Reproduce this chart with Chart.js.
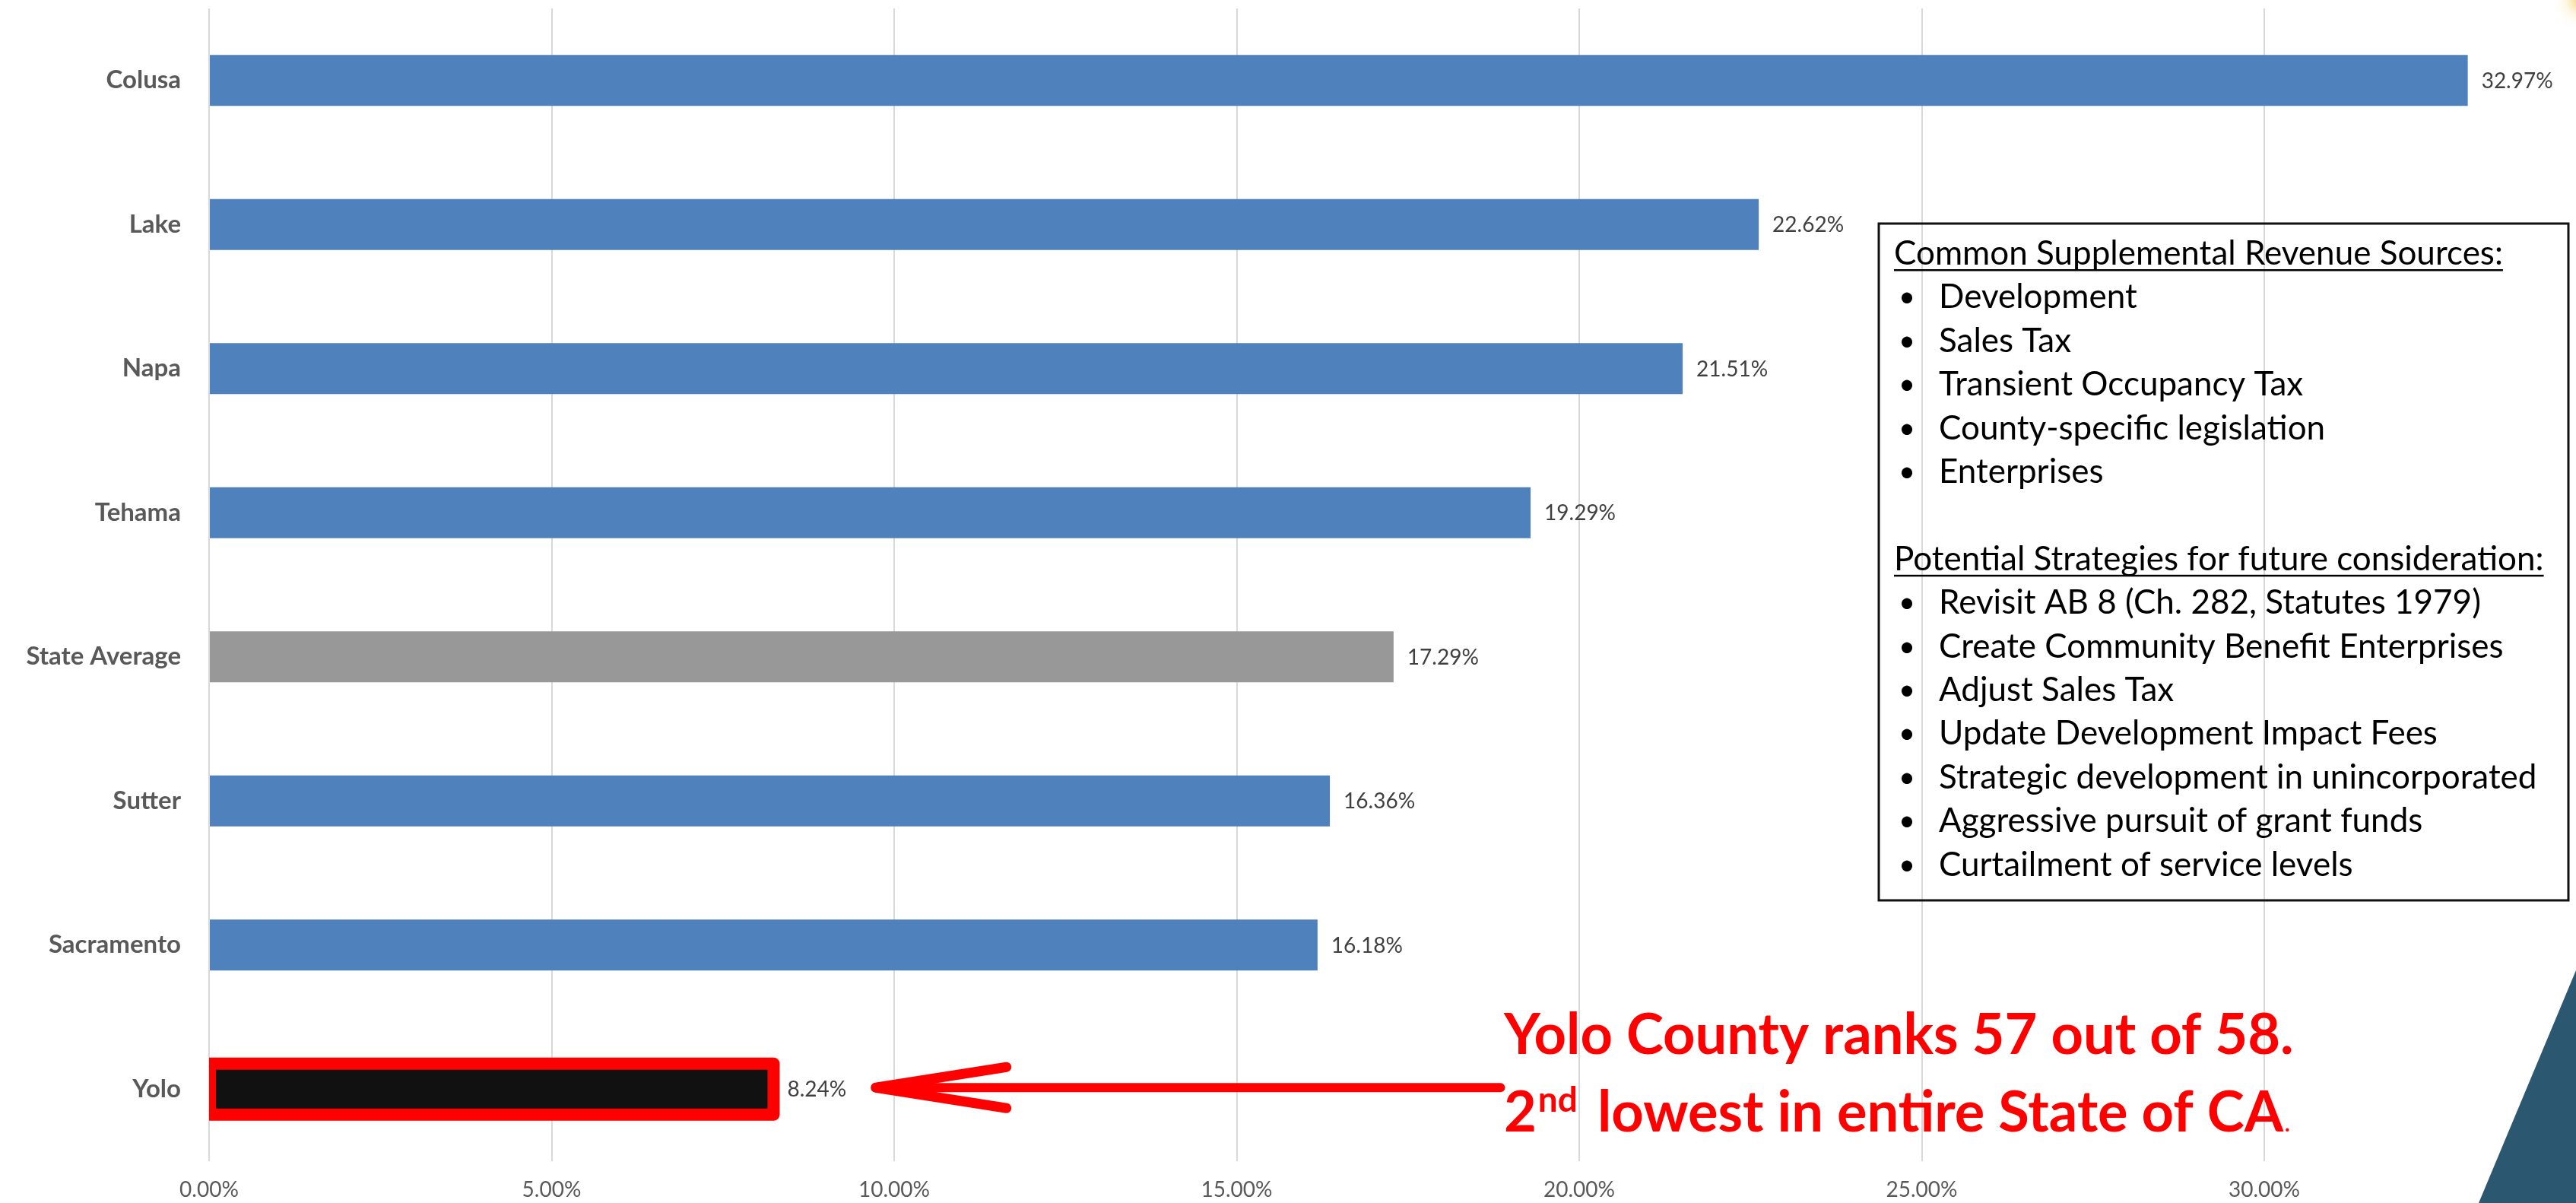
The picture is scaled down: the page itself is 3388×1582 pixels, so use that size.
<!DOCTYPE html>
<html>
<head>
<meta charset="utf-8">
<title>Discretionary revenue share by county</title>
<script src="https://cdn.jsdelivr.net/npm/chart.js@4.4.1/dist/chart.umd.min.js"></script>
<style>
  html, body { margin: 0; padding: 0; background: #fff; }
  #wrap { width: 3388px; height: 1582px; position: relative; overflow: hidden; }
</style>
</head>
<body>
<div id="wrap"><canvas id="chart" width="3388" height="1582"></canvas></div>
<script>
// Chart data
const counties = ['Colusa', 'Lake', 'Napa', 'Tehama', 'State Average', 'Sutter', 'Sacramento', 'Yolo'];
const shares = [32.97, 22.62, 21.51, 19.29, 17.29, 16.36, 16.18, 8.24];
const xTicks = [0, 5, 10, 15, 20, 25, 30];

// Side box text
const sourcesTitle = 'Common Supplemental Revenue Sources:';
const revenueSources = ['Development', 'Sales Tax', 'Transient Occupancy Tax', 'County-specific legislation', 'Enterprises'];
const strategiesTitle = 'Potential Strategies for future consideration:';
const strategies = [
  'Revisit AB 8 (Ch. 282, Statutes 1979)',
  'Create Community Benefit Enterprises',
  'Adjust Sales Tax',
  'Update Development Impact Fees',
  'Strategic development in unincorporated',
  'Aggressive pursuit of grant funds',
  'Curtailment of service levels'
];

const BLUE = '#4F81BD';
const GRAY = '#989898';
const RED = '#FF0000';
const FONT = 'Lato, "Open Sans", sans-serif';

const barColors = counties.map(name => {
  if (name === 'State Average') return GRAY;
  if (name === 'Yolo') return '#111111';
  return BLUE;
});

// Red outline around Yolo + value labels at bar ends
const barLabels = {
  id: 'barLabels',
  afterDatasetsDraw(chart) {
    const { ctx, chartArea } = chart;
    const bars = chart.getDatasetMeta(0).data;
    const yolo = bars[counties.indexOf('Yolo')];

    ctx.save();
    ctx.beginPath();
    ctx.rect(chartArea.left, chartArea.top, chartArea.right - chartArea.left, chartArea.bottom - chartArea.top);
    ctx.clip();
    ctx.strokeStyle = RED;
    ctx.lineWidth = 16;
    ctx.lineJoin = 'round';
    ctx.strokeRect(yolo.base, yolo.y - yolo.height / 2, yolo.x - yolo.base, yolo.height);
    ctx.restore();

    ctx.save();
    ctx.font = '28px ' + FONT;
    ctx.fillStyle = '#404040';
    ctx.textBaseline = 'middle';
    bars.forEach((bar, i) => {
      ctx.fillText(shares[i].toFixed(2) + '%', bar.x + 18, bar.y + 1);
    });
    ctx.restore();
  }
};

// Arrow, red callout, side box and slide corner decoration
const callouts = {
  id: 'callouts',
  afterDraw(chart) {
    const { ctx } = chart;
    const xs = chart.scales.x;
    const ys = chart.scales.y;
    const yoloY = ys.getPixelForValue(counties.indexOf('Yolo'));

    // arrow pointing back at the Yolo bar
    const tipX = xs.getPixelForValue(9.73);
    const tailX = xs.getPixelForValue(18.85);
    const ay = yoloY - 2;
    ctx.save();
    ctx.strokeStyle = RED;
    ctx.lineCap = 'round';
    ctx.lineWidth = 12;
    ctx.beginPath();
    ctx.moveTo(tipX + 6, ay);
    ctx.lineTo(tailX, ay);
    ctx.stroke();
    ctx.lineWidth = 13;
    ctx.beginPath();
    ctx.moveTo(tipX, ay);
    ctx.lineTo(tipX + 172, ay - 27);
    ctx.moveTo(tipX, ay);
    ctx.lineTo(tipX + 172, ay + 27);
    ctx.stroke();
    ctx.restore();

    // red callout text
    const tx = xs.getPixelForValue(18.9);
    ctx.save();
    ctx.fillStyle = RED;
    ctx.textBaseline = 'alphabetic';
    ctx.font = 'bold 74px ' + FONT;
    ctx.fillText('Yolo County ranks 57 out of 58.', tx, yoloY - 46, 1094);
    let cx = tx;
    ctx.fillText('2', cx, yoloY + 56);
    cx += ctx.measureText('2').width + 2;
    ctx.font = 'bold 46px ' + FONT;
    ctx.fillText('nd', cx, yoloY + 30);
    cx += ctx.measureText('nd').width + 26;
    ctx.font = 'bold 74px ' + FONT;
    const rest = 'lowest in entire State of CA';
    const restW = Math.min(ctx.measureText(rest).width, 956);
    ctx.fillText(rest, cx, yoloY + 56, 956);
    ctx.font = 'bold 28px ' + FONT;
    ctx.fillText('.', cx + restW + 2, yoloY + 56);
    ctx.restore();

    // side box
    ctx.save();
    ctx.strokeStyle = '#111';
    ctx.lineWidth = 3;
    ctx.strokeRect(2471, 294, 907, 890);
    ctx.fillStyle = '#000';
    ctx.font = '44px ' + FONT;
    ctx.textBaseline = 'alphabetic';
    const step = 57.4;
    let line = 0;
    const base = 348;
    const header = (text) => {
      const yy = base + line * step;
      ctx.fillText(text, 2491, yy);
      const w = ctx.measureText(text).width;
      ctx.fillRect(2491, yy + 6, w, 2.5);
      line++;
    };
    const bullet = (text) => {
      const yy = base + line * step;
      ctx.font = '38px ' + FONT;
      ctx.fillText('\u2022', 2497, yy - 2);
      ctx.font = '44px ' + FONT;
      ctx.fillText(text, 2550, yy);
      line++;
    };
    header(sourcesTitle);
    revenueSources.forEach(bullet);
    line++;
    header(strategiesTitle);
    strategies.forEach(bullet);
    ctx.restore();

    // slide corner decoration
    ctx.save();
    ctx.fillStyle = '#2C5770';
    ctx.beginPath();
    ctx.moveTo(3388, 1276);
    ctx.lineTo(3388, 1582);
    ctx.lineTo(3260, 1582);
    ctx.closePath();
    ctx.fill();
    const glow = ctx.createRadialGradient(3396, 0, 2, 3396, 0, 40);
    glow.addColorStop(0, 'rgba(240,180,50,0.7)');
    glow.addColorStop(0.5, 'rgba(250,225,150,0.3)');
    glow.addColorStop(1, 'rgba(255,250,235,0)');
    ctx.fillStyle = glow;
    ctx.fillRect(3340, 0, 48, 50);
    ctx.restore();
  }
};

const ctx = document.getElementById('chart').getContext('2d');

const chart = new Chart(ctx, {
  type: 'bar',
  data: {
    labels: counties,
    datasets: [{
      data: shares,
      backgroundColor: barColors,
      borderWidth: 0,
      categoryPercentage: 1.0,
      barPercentage: 0.354
    }]
  },
  options: {
    indexAxis: 'y',
    responsive: false,
    devicePixelRatio: 1,
    animation: false,
    layout: { padding: { top: 11, right: 0, bottom: 0, left: 0 } },
    plugins: {
      legend: { display: false },
      tooltip: { enabled: false }
    },
    scales: {
      x: {
        min: 0,
        max: 34.55,
        afterBuildTicks: (scale) => { scale.ticks = xTicks.map(v => ({ value: v })); },
        afterFit: (scale) => {
          scale.height = 55;
          scale.paddingLeft = 0;
          scale.paddingRight = 0;
        },
        grid: { color: '#d9d9d9', lineWidth: 2, drawTicks: false },
        border: { display: false },
        ticks: {
          padding: 21,
          color: '#595959',
          font: { family: FONT, size: 28 },
          callback: (v) => v.toFixed(2) + '%'
        }
      },
      y: {
        // keep the plot area full height; labels sit 37px left of it
        afterFit: (scale) => {
          scale.width = 275;
          scale.paddingTop = 0;
          scale.paddingBottom = 0;
        },
        grid: { display: false, drawTicks: false },
        border: { display: false },
        ticks: {
          padding: 37,
          color: '#595959',
          font: { family: FONT, size: 33, weight: 'bold' }
        }
      }
    }
  },
  plugins: [barLabels, callouts]
});
</script>
</body>
</html>
